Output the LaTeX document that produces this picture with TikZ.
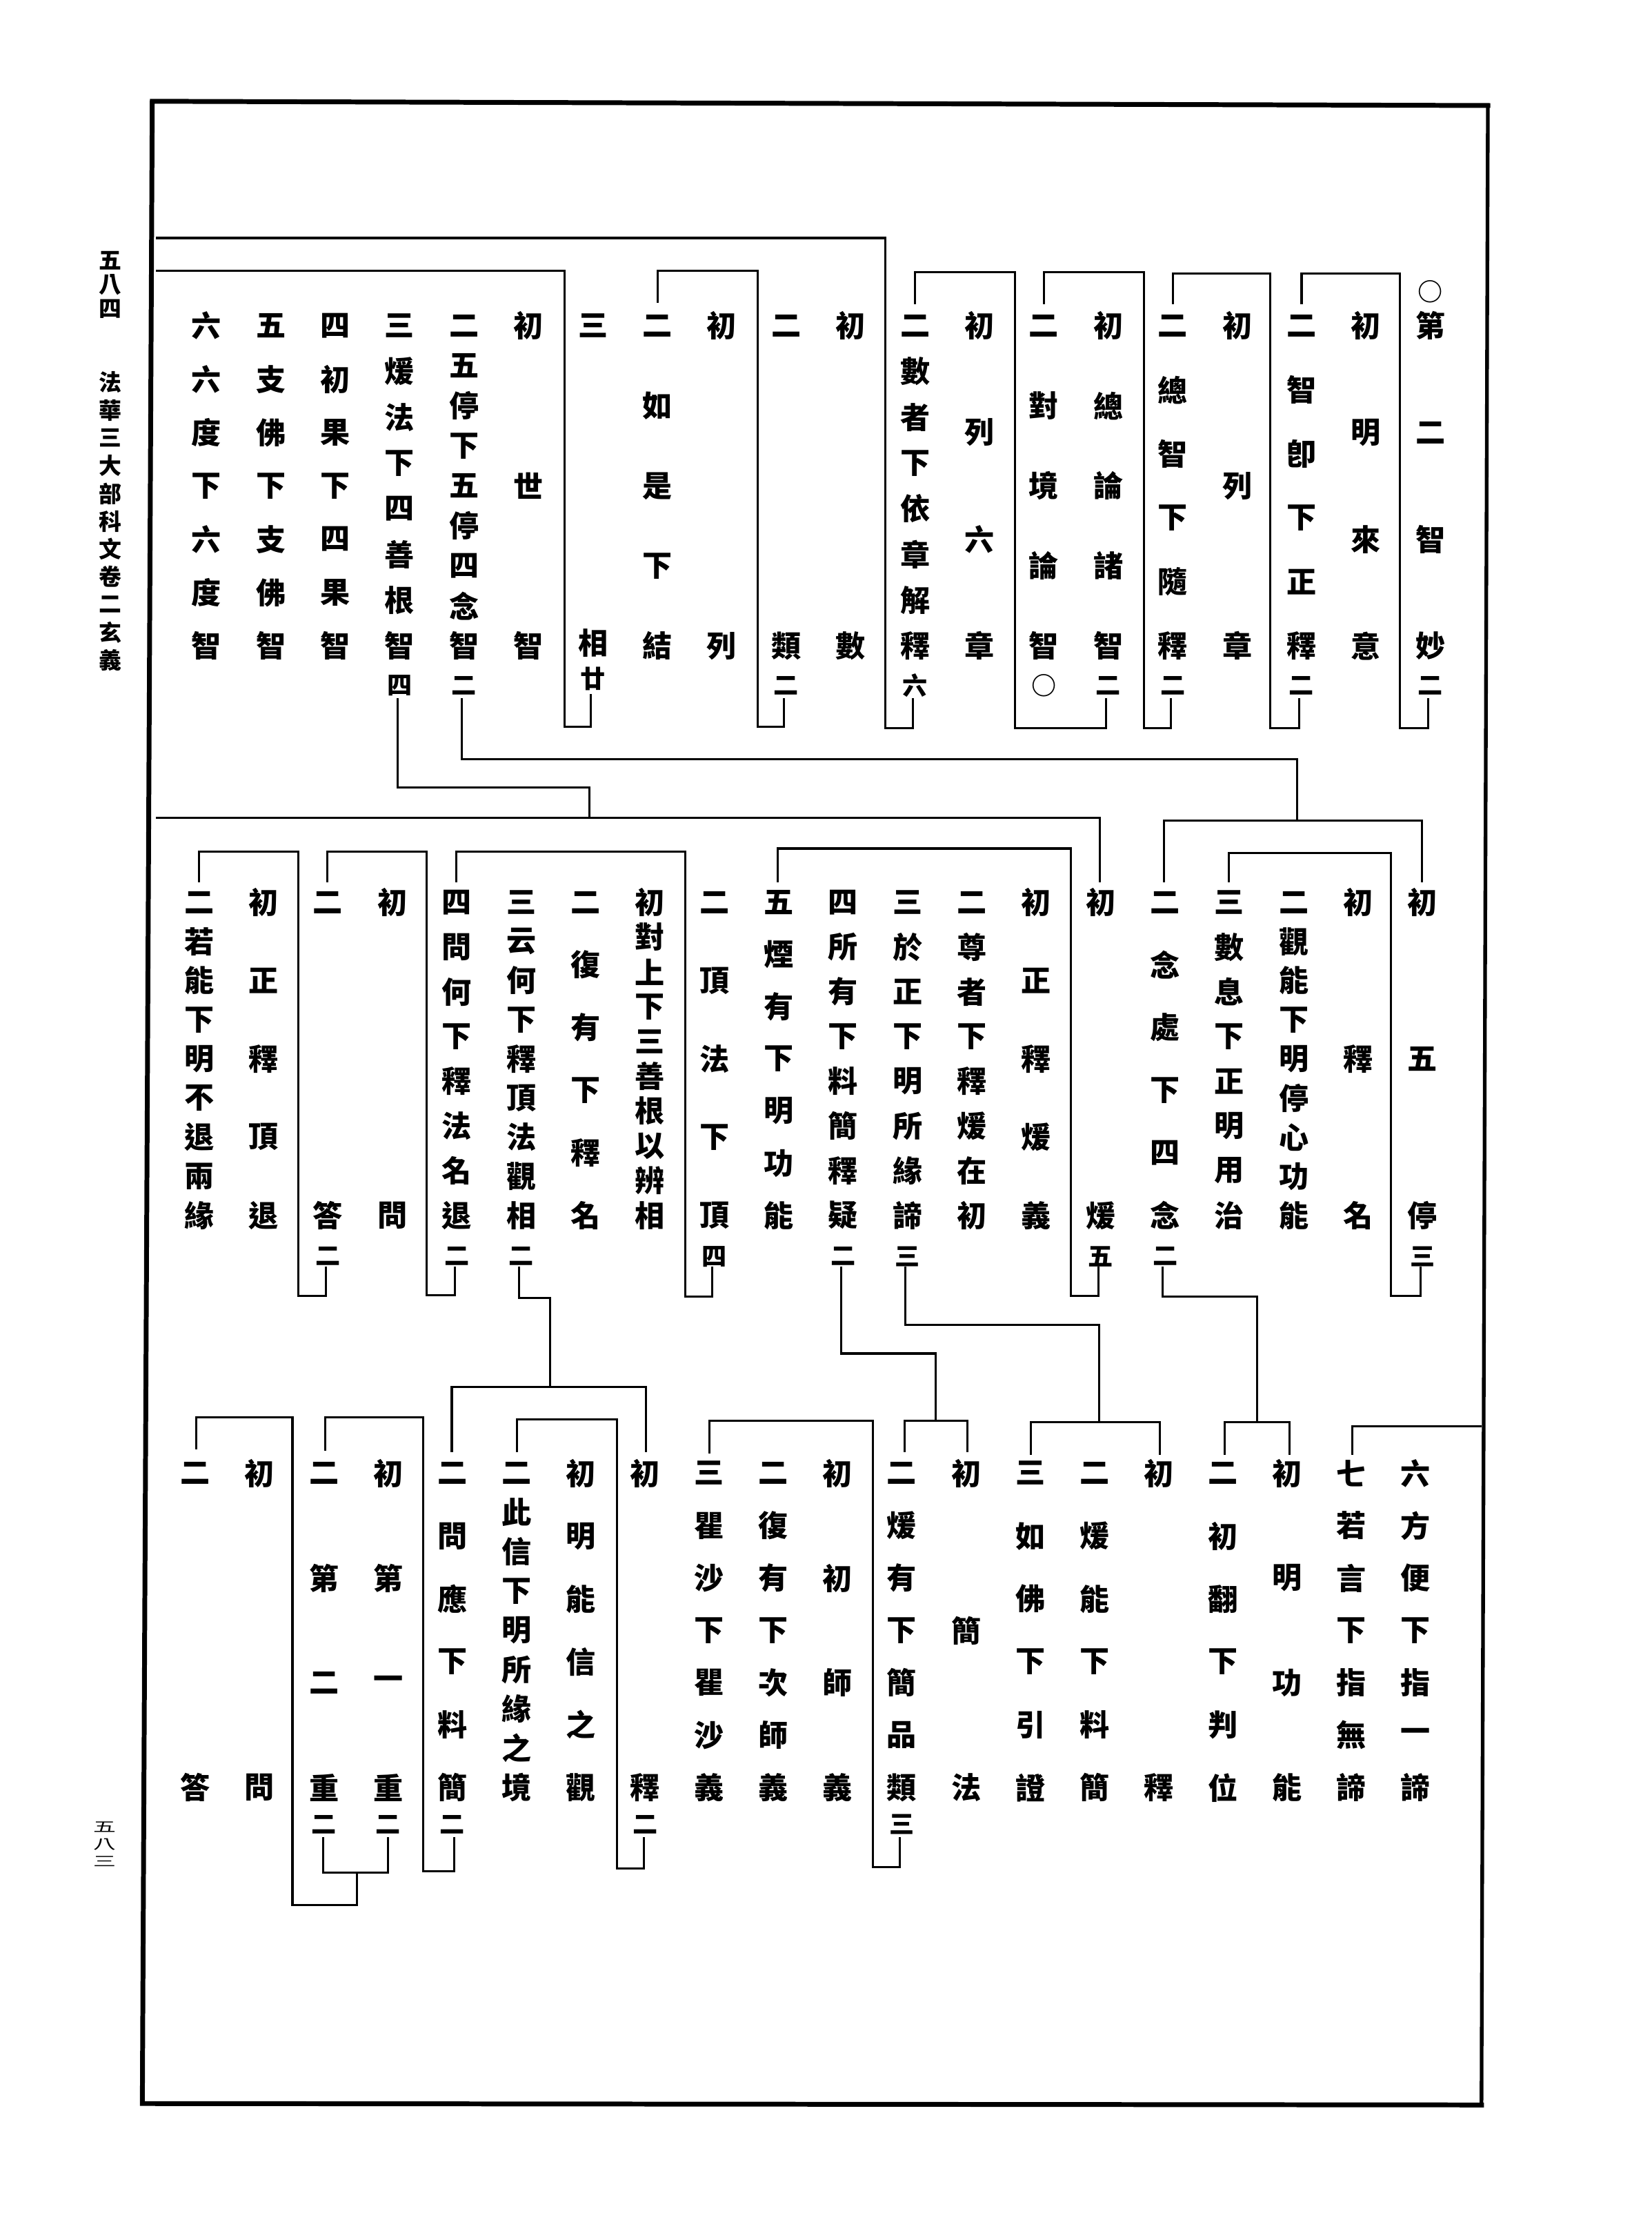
\documentclass[tikz,border=0pt]{standalone}
\usepackage{fontspec}
\setmainfont{Noto Sans CJK TC}
\newcommand\kcol[6]{%
  \foreach \kch [count=\ki] in {#6} {%
    \pgfmathsetmacro\kyy{#3+(#4-#3)*(\ki-1)/(#5-1)}%
    \node[kz] (#1-\ki) at (#2,\kyy) {\kch};
  }%
}
\begin{document}
\begin{tikzpicture}[x=0.5pt,y=-0.5pt,
  kz/.style={inner sep=0pt,font=\fontsize{10.5}{10.5}\selectfont\bfseries},
  kc/.style={inner sep=0pt,font=\fontsize{8.8}{8.8}\selectfont\bfseries},
  mz/.style={inner sep=0pt,font=\fontsize{8}{8}\selectfont\bfseries},
  pz/.style={inner sep=0pt,font=\fontsize{8}{8}\selectfont},
  br/.style={line width=0.75pt,line join=miter},
  fr/.style={line width=1.7pt,line cap=rect}]
\useasboundingbox (0,0) rectangle (1166,1575);
% frame
\draw[fr] (1050.5,74.5) -- (107.5,71.5) -- (100.5,1485) -- (1046,1486);
\draw[fr,line width=1.3pt] (1050.5,74.5) -- (1046,1486);
% margin text
\foreach \ch/\yy [count=\i] in {五/184,八/201,四/218} {\node[mz] (P\i) at (78,\yy) {\ch};}
\foreach \ch [count=\i] in {法,華,三,大,部,科,文,卷,二,玄,義} {%
  \pgfmathsetmacro\yy{270+19.6*(\i-1)}%
  \node[mz] (H\i) at (78,\yy) {\ch};}
\foreach \ch/\yy [count=\i] in {五/1290,八/1302,三/1314} {\node[pz] (Q\i) at (74,\yy) {\scalebox{1}[0.6]{\ch}};}
% ---------------- top band
\kcol{T0}{145.8}{230}{456}{7}{六,六,度,下,六,度,智}
\kcol{T1}{191.3}{230}{456}{7}{五,支,佛,下,支,佛,智}
\kcol{T2}{236.8}{230}{456}{7}{四,初,果,下,四,果,智}
\kcol{T3}{282.2}{230}{456}{8}{三,煖,法,下,四,善,根,智}
\node[kc] (T3-c) at (282.2,484) {四};
\kcol{T4}{327.7}{230}{456}{9}{二,五,停,下,五,停,四,念,智}
\node[kc] (T4-c) at (327.7,484) {二};
\kcol{T5}{373.2}{230}{456}{3}{初,世,智}
\kcol{T6}{418.7}{230}{454}{2}{三,相}
\node[kc] (T6-c) at (418.7,479) {廿};
\kcol{T7}{464.2}{230}{456}{5}{二,如,是,下,結}
\kcol{T8}{509.6}{230}{456}{2}{初,列}
\kcol{T9}{555.1}{230}{456}{2}{二,類}
\node[kc] (T9-c) at (555.1,484) {二};
\kcol{T10}{600.6}{230}{456}{2}{初,數}
\kcol{T11}{646.1}{230}{456}{8}{二,數,者,下,依,章,解,釋}
\node[kc] (T11-c) at (646.1,484) {六};
\kcol{T12}{691.6}{230}{456}{4}{初,列,六,章}
\kcol{T13}{737.0}{230}{456}{5}{二,對,境,論,智}
\node[kc] (T13-c) at (737.0,484) {○};
\kcol{T14}{782.5}{230}{456}{5}{初,總,論,諸,智}
\node[kc] (T14-c) at (782.5,484) {二};
\kcol{T15}{828.0}{230}{456}{6}{二,總,智,下,隨,釋}
\node[kc] (T15-c) at (828.0,484) {二};
\kcol{T16}{873.5}{230}{456}{3}{初,列,章}
\kcol{T17}{919.0}{230}{456}{6}{二,智,卽,下,正,釋}
\node[kc] (T17-c) at (919.0,484) {二};
\kcol{T18}{964.4}{230}{456}{4}{初,明,來,意}
\kcol{T19}{1009.9}{230}{456}{4}{第,二,智,妙}
\node[kc] (T19-c) at (1009.9,484) {二};
\node[kc] (T19-o) at (1009.9,206) {○};
% top band brackets
\draw[br] (1008.4,493)--(1008.4,514)--(988.5,514)--(988.5,193)--(919,193)--(919,215);
\draw[br] (917.5,493)--(917.5,514)--(897,514)--(897,193)--(828,193)--(828,215);
\draw[br] (826.5,493)--(826.5,514)--(807.5,514)--(807.5,192)--(737,192)--(737,215);
\draw[br] (781,493)--(781,514)--(716.5,514)--(716.5,192)--(646,192)--(646,215);
\draw[br] (644.6,493)--(644.6,514)--(625,514)--(625,168)--(110,168);
\draw[br] (553.6,493)--(553.6,513)--(534.8,513)--(534.8,191)--(464.5,191)--(464.5,214);
\draw[br] (417.2,490)--(417.2,513)--(398.5,513)--(398.5,191)--(110,191);
\draw[br] (326.2,493)--(326.2,536)--(916,536)--(916,579.5);
\draw[br] (280.7,493)--(280.7,556)--(416,556)--(416,577.5);
% ---------------- middle band
\kcol{M0}{140.7}{637}{858}{9}{二,若,能,下,明,不,退,兩,緣}
\kcol{M1}{186.2}{637}{858}{5}{初,正,釋,頂,退}
\kcol{M2}{231.6}{637}{858}{2}{二,答}
\node[kc] (M2-c) at (231.6,887) {二};
\kcol{M3}{277.1}{637}{858}{2}{初,問}
\kcol{M4}{322.5}{637}{858}{8}{四,問,何,下,釋,法,名,退}
\node[kc] (M4-c) at (322.5,887) {二};
\kcol{M5}{368.0}{637}{858}{9}{三,云,何,下,釋,頂,法,觀,相}
\node[kc] (M5-c) at (368.0,887) {二};
\kcol{M6}{413.5}{637}{858}{6}{二,復,有,下,釋,名}
\kcol{M7}{458.9}{637}{858}{10}{初,對,上,下,三,善,根,以,辨,相}
\kcol{M8}{504.4}{637}{858}{5}{二,頂,法,下,頂}
\node[kc] (M8-c) at (504.4,887) {四};
\kcol{M9}{549.8}{637}{858}{7}{五,煙,有,下,明,功,能}
\kcol{M10}{595.3}{637}{858}{8}{四,所,有,下,料,簡,釋,疑}
\node[kc] (M10-c) at (595.3,887) {二};
\kcol{M11}{640.8}{637}{858}{8}{三,於,正,下,明,所,緣,諦}
\node[kc] (M11-c) at (640.8,887) {三};
\kcol{M12}{686.2}{637}{858}{8}{二,尊,者,下,釋,煖,在,初}
\kcol{M13}{731.7}{637}{858}{5}{初,正,釋,煖,義}
\kcol{M14}{777.1}{637}{858}{2}{初,煖}
\node[kc] (M14-c) at (777.1,887) {五};
\kcol{M15}{822.6}{637}{858}{6}{二,念,處,下,四,念}
\node[kc] (M15-c) at (822.6,887) {二};
\kcol{M16}{868.1}{637}{858}{8}{三,數,息,下,正,明,用,治}
\kcol{M17}{913.5}{637}{858}{9}{二,觀,能,下,明,停,心,功,能}
\kcol{M18}{959.0}{637}{858}{3}{初,釋,名}
\kcol{M19}{1004.4}{637}{858}{3}{初,五,停}
\node[kc] (M19-c) at (1004.4,887) {三};
% middle band brackets
\draw[br] (110,577.5)--(776.5,577.5)--(776.5,623);
\draw[br] (822,623)--(822,579.5)--(1004,579.5)--(1004,623);
\draw[br] (1003,894)--(1003,915)--(982,915)--(982,602)--(867.5,602)--(867.5,623);
\draw[br] (775.6,894)--(775.6,915)--(756,915)--(756,599)--(549,599)--(549,623);
\draw[br] (821,894)--(821,915.5)--(887.5,915.5)--(887.5,1004);
\draw[br] (639.3,894)--(639.3,935.5)--(776,935.5)--(776,1004);
\draw[br] (593.8,894)--(593.8,955.5)--(660.5,955.5)--(660.5,1003);
\draw[br] (503,894)--(503,915.5)--(484,915.5)--(484,601)--(322,601)--(322,623);
\draw[br] (321,894)--(321,914.5)--(301,914.5)--(301,601)--(231,601)--(231,623);
\draw[br] (230.1,894)--(230.1,915)--(210.5,915)--(210.5,601)--(140.5,601)--(140.5,623);
\draw[br] (366.5,894)--(366.5,916.5)--(388.5,916.5)--(388.5,979);
% ---------------- bottom band
\kcol{B0}{138.0}{1040}{1262}{2}{二,答}
\kcol{B1}{183.3}{1040}{1262}{2}{初,問}
\kcol{B2}{228.7}{1040}{1262}{4}{二,第,二,重}
\node[kc] (B2-c) at (228.7,1288) {二};
\kcol{B3}{274.0}{1040}{1262}{4}{初,第,一,重}
\node[kc] (B3-c) at (274.0,1288) {二};
\kcol{B4}{319.4}{1040}{1262}{6}{二,問,應,下,料,簡}
\node[kc] (B4-c) at (319.4,1288) {二};
\kcol{B5}{364.7}{1040}{1262}{9}{二,此,信,下,明,所,緣,之,境}
\kcol{B6}{410.0}{1040}{1262}{6}{初,明,能,信,之,觀}
\kcol{B7}{455.4}{1040}{1262}{2}{初,釋}
\node[kc] (B7-c) at (455.4,1288) {二};
\kcol{B8}{500.7}{1040}{1262}{7}{三,瞿,沙,下,瞿,沙,義}
\kcol{B9}{546.1}{1040}{1262}{7}{二,復,有,下,次,師,義}
\kcol{B10}{591.4}{1040}{1262}{4}{初,初,師,義}
\kcol{B11}{636.7}{1040}{1262}{7}{二,煖,有,下,簡,品,類}
\node[kc] (B11-c) at (636.7,1288) {三};
\kcol{B12}{682.1}{1040}{1262}{3}{初,簡,法}
\kcol{B13}{727.4}{1040}{1262}{6}{三,如,佛,下,引,證}
\kcol{B14}{772.8}{1040}{1262}{6}{二,煖,能,下,料,簡}
\kcol{B15}{818.1}{1040}{1262}{2}{初,釋}
\kcol{B16}{863.4}{1040}{1262}{6}{二,初,翻,下,判,位}
\kcol{B17}{908.8}{1040}{1262}{4}{初,明,功,能}
\kcol{B18}{954.1}{1040}{1262}{7}{七,若,言,下,指,無,諦}
\kcol{B19}{999.5}{1040}{1262}{7}{六,方,便,下,指,一,諦}
% bottom band brackets
\draw[br] (319,1025)--(319,979)--(456,979)--(456,1025);
\draw[br] (454.5,1297)--(454.5,1319)--(435.5,1319)--(435.5,1002)--(365,1002)--(365,1025);
\draw[br] (320.5,1297)--(320.5,1321)--(298.7,1321)--(298.7,1000.5)--(229.5,1000.5)--(229.5,1024);
\draw[br] (228,1297)--(228,1322)--(274,1322)--(274,1297);
\draw[br] (252,1322)--(252,1345)--(206.5,1345)--(206.5,1000.5)--(138.5,1000.5)--(138.5,1023);
\draw[br] (635.5,1297)--(635.5,1318)--(616.5,1318)--(616.5,1003)--(501,1003)--(501,1026);
\draw[br] (638.5,1025)--(638.5,1003)--(683,1003)--(683,1025);
\draw[br] (728,1027)--(728,1004)--(819,1004)--(819,1027);
\draw[br] (864.5,1027)--(864.5,1004)--(910.5,1004)--(910.5,1027);
\draw[br] (1046,1007)--(955,1007)--(955,1027);
\end{tikzpicture}
\end{document}
